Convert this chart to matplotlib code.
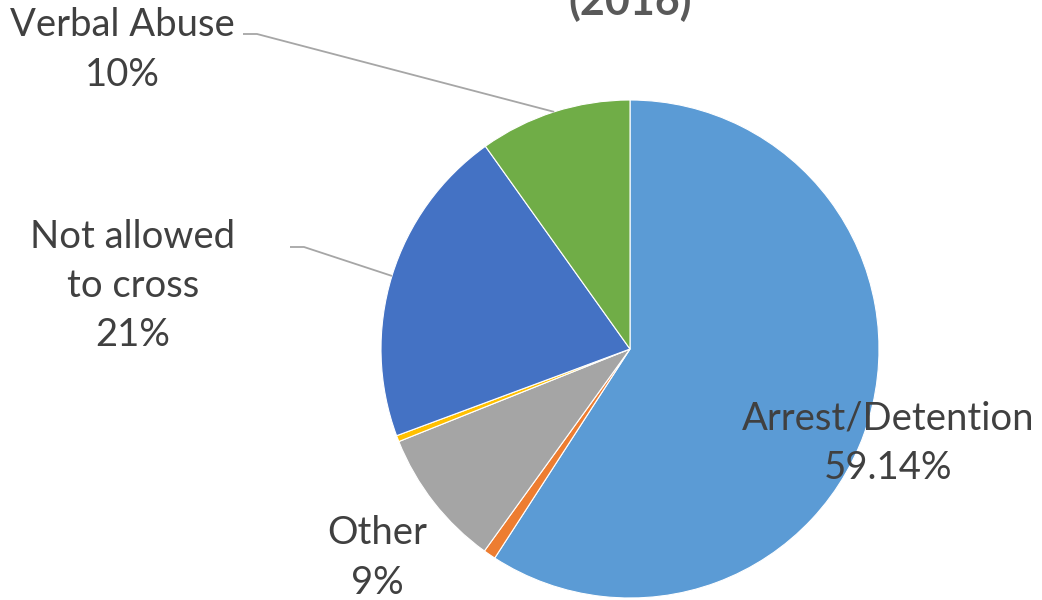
import matplotlib.pyplot as plt
import numpy as np

plt.rcParams['font.family'] = ['Lato', 'DejaVu Sans']

categories = ['Arrest/Detention', 'Physical Abuse', 'Other', 'Confiscation',
              'Not allowed\nto cross', 'Verbal Abuse']
values = [59.14, 0.8, 9.0, 0.4, 20.8, 9.86]
pct_labels = ['59.14%', '', '9%', '', '21%', '10%']
colors = ['#5B9BD5', '#ED7D31', '#A5A5A5', '#FFC000', '#4472C4', '#70AD47']

W, H = 1042, 600
fig = plt.figure(figsize=(W / 100, H / 100), dpi=100)
ax = fig.add_axes([0, 0, 1, 1])

cx, cy, r = 630, H - 349, 249
wedges, _ = ax.pie(values, colors=colors, startangle=90, counterclock=False,
                   center=(cx, cy), radius=r, frame=True,
                   wedgeprops=dict(edgecolor='white', linewidth=0.8))
ax.set_xlim(0, W)
ax.set_ylim(0, H)
ax.set_aspect('equal')
ax.axis('off')

txt = dict(color='#404040', fontsize=27.5, ha='center', va='center', linespacing=1.45)

# label positions (pixel coords of the text block centre) and leader line start
label_pos = {0: (888, 443), 2: (377, 558), 4: (133, 286), 5: (122, 50)}
leader_start = {4: (290, 247), 5: (243, 34)}

for i, (px, py) in label_pos.items():
    ax.text(px, H - py, categories[i] + '\n' + pct_labels[i], **txt)
    if i in leader_start:
        w = wedges[i]
        mid = np.deg2rad((w.theta1 + w.theta2) / 2)
        ex, ey = cx + r * np.cos(mid), cy + r * np.sin(mid)
        sx, sy = leader_start[i]
        ax.plot([sx, sx + 14, ex], [H - sy, H - sy, ey], color='#A6A6A6', lw=1.3,
                solid_capstyle='butt')

# title sits mostly above the visible area, as in the original crop
ax.text(630, H - 15, '(2016)', ha='center', va='baseline',
        fontsize=31, fontweight='bold', color='#595959')

fig.savefig('out.png', dpi=100)
